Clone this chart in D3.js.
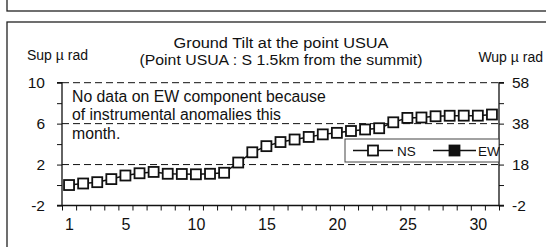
<!DOCTYPE html>
<html><head><meta charset="utf-8">
<script src="https://cdn.jsdelivr.net/npm/d3@7"></script>
<style>
html,body{margin:0;padding:0;background:#fff;}
svg{display:block;font-family:"Liberation Sans",Arial,sans-serif;}
</style></head>
<body><svg id="c" width="546" height="247"></svg>
<script>
const days = d3.range(1, 32);
const nsValues = [0.0,0.15,0.28,0.58,0.93,1.15,1.28,1.1,1.08,1.05,1.1,1.2,2.2,3.2,3.8,4.2,4.45,4.7,4.95,5.1,5.28,5.43,5.55,6.13,6.56,6.6,6.72,6.77,6.78,6.78,6.89];
const ewValues = days.map(() => null);
const xTickLabels = [1,5,10,15,20,25,30];
const leftTickLabels = [-2,2,6,10];
const rightTickLabels = [-2,18,38,58];
const titleLines = ["Ground Tilt at the point USUA","(Point USUA : S 1.5km from the summit)"];
const noteLines = ["No data on EW component because","of instrumental anomalies this","month."];
const seriesNames = ["NS","EW"];

const svg = d3.select("#c");
const ink = "#111";

// frames
svg.append("rect").attr("x",7).attr("y",-10).attr("width",600).attr("height",21)
  .attr("fill","none").attr("stroke","#222").attr("stroke-width",1.3);
svg.append("rect").attr("x",7).attr("y",22).attr("width",600).attr("height",300)
  .attr("fill","none").attr("stroke","#222").attr("stroke-width",1.3);

const L = 62, R = 499, T = 82.7, B = 205.5;
const x = d3.scaleLinear().domain([0.5,31.5]).range([L,R]);
const yL = d3.scaleLinear().domain([-2,10]).range([B,T]);
const yR = d3.scaleLinear().domain([-2,58]).range([B,T]);

// gridlines
svg.append("g").selectAll("line").data([2,6,10]).join("line")
  .attr("x1",L).attr("x2",R).attr("y1",d=>yL(d)).attr("y2",d=>yL(d))
  .attr("stroke",ink).attr("stroke-width",1).attr("stroke-dasharray","7,4");

const fmt = d => String(d);
// left axis
const gl = svg.append("g").attr("transform",`translate(${L},0)`)
  .call(d3.axisLeft(yL).tickValues(d3.range(-2,11,2)).tickSize(5).tickPadding(12)
    .tickFormat(d => leftTickLabels.includes(d) ? fmt(d) : ""));
// right axis
const gr = svg.append("g").attr("transform",`translate(${R},0)`)
  .call(d3.axisRight(yR).tickValues(d3.range(-2,59,10)).tickSize(5).tickPadding(8)
    .tickFormat(d => rightTickLabels.includes(d) ? fmt(d) : ""));
// bottom ticks at day boundaries
const gb = svg.append("g").attr("transform",`translate(0,${B})`)
  .call(d3.axisBottom(x).tickValues(d3.range(0.5,32,1)).tickSize(5).tickFormat(""));
// bottom labels
const gbl = svg.append("g").attr("transform",`translate(0,${B})`)
  .call(d3.axisBottom(x).tickValues(xTickLabels).tickSize(0).tickPadding(13).tickFormat(fmt));
gbl.select(".domain").remove();

[gl,gr,gb,gbl].forEach(g=>{
  g.selectAll(".domain").attr("stroke",ink).attr("stroke-width",1.3);
  g.selectAll(".tick line").attr("stroke",ink).attr("stroke-width",1);
  g.selectAll("text").attr("fill",ink).style("font-family","'Liberation Sans',Arial,sans-serif");
});
[gl,gr].forEach(g=>g.selectAll("text").style("font-size","15.5px"));
gbl.selectAll("text").style("font-size","16px");
gl.select(".domain").attr("d",`M-5,${B}H0V${T}H-5`);
gr.select(".domain").attr("d",`M5,${B}H0V${T}H5`);
gb.select(".domain").attr("d",`M${L},0H${R}`);

// titles
const titleW = [215, 283];
svg.append("g").selectAll("text").data(titleLines).join("text")
  .attr("x",281).attr("y",(d,i)=>48+i*16.5).attr("text-anchor","middle")
  .attr("textLength",(d,i)=>titleW[i]).attr("lengthAdjust","spacingAndGlyphs")
  .attr("fill",ink).style("font-size","15.5px").text(d=>d);
svg.append("text").attr("x",27).attr("y",60).attr("fill",ink).style("font-size","14px").text("Sup µ rad");
svg.append("text").attr("x",543).attr("y",62).attr("text-anchor","end").attr("fill",ink).style("font-size","14px").text("Wup µ rad");

// note
svg.append("g").selectAll("text").data(noteLines).join("text")
  .attr("x",72).attr("y",(d,i)=>101.5+i*18.5).attr("fill",ink).style("font-size","15.8px").text(d=>d);

// series NS
const line = d3.line().defined(d=>d[1]!=null).x(d=>x(d[0])).y(d=>yL(d[1]));
const ns = days.map((d,i)=>[d,nsValues[i]]);
const ew = days.map((d,i)=>[d,ewValues[i]]);
svg.append("path").datum(ns).attr("d",line).attr("fill","none").attr("stroke",ink).attr("stroke-width",1.5);
svg.append("g").selectAll("rect").data(ns.filter(d=>d[1]!=null)).join("rect")
  .attr("x",d=>x(d[0])-5).attr("y",d=>yL(d[1])-5).attr("width",10).attr("height",10)
  .attr("fill","#fff").attr("stroke",ink).attr("stroke-width",1.8);
svg.append("path").datum(ew).attr("d",line).attr("fill","none").attr("stroke",ink).attr("stroke-width",1.5);
svg.append("g").selectAll("rect").data(ew.filter(d=>d[1]!=null)).join("rect")
  .attr("x",d=>x(d[0])-5).attr("y",d=>yL(d[1])-5).attr("width",10).attr("height",10)
  .attr("fill",ink).attr("stroke",ink);

// legend
const lg = svg.append("g");
lg.append("rect").attr("x",345).attr("y",139).attr("width",154).attr("height",23)
  .attr("fill","#fff").attr("stroke","#444").attr("stroke-width",1);
const ly = 150.5;
const items = [{name:seriesNames[0],x0:353,x1:393,fill:"#fff",tx:397},{name:seriesNames[1],x0:433,x1:476,fill:ink,tx:478}];
items.forEach(it=>{
  lg.append("line").attr("x1",it.x0).attr("x2",it.x1).attr("y1",ly).attr("y2",ly).attr("stroke",ink).attr("stroke-width",1.5);
  const cx=(it.x0+it.x1)/2;
  lg.append("rect").attr("x",cx-5).attr("y",ly-5).attr("width",10).attr("height",10)
    .attr("fill",it.fill).attr("stroke",ink).attr("stroke-width",1.8);
  lg.append("text").attr("x",it.tx).attr("y",ly+5).attr("fill",ink).style("font-size","13.5px").text(it.name);
});
</script></body></html>
